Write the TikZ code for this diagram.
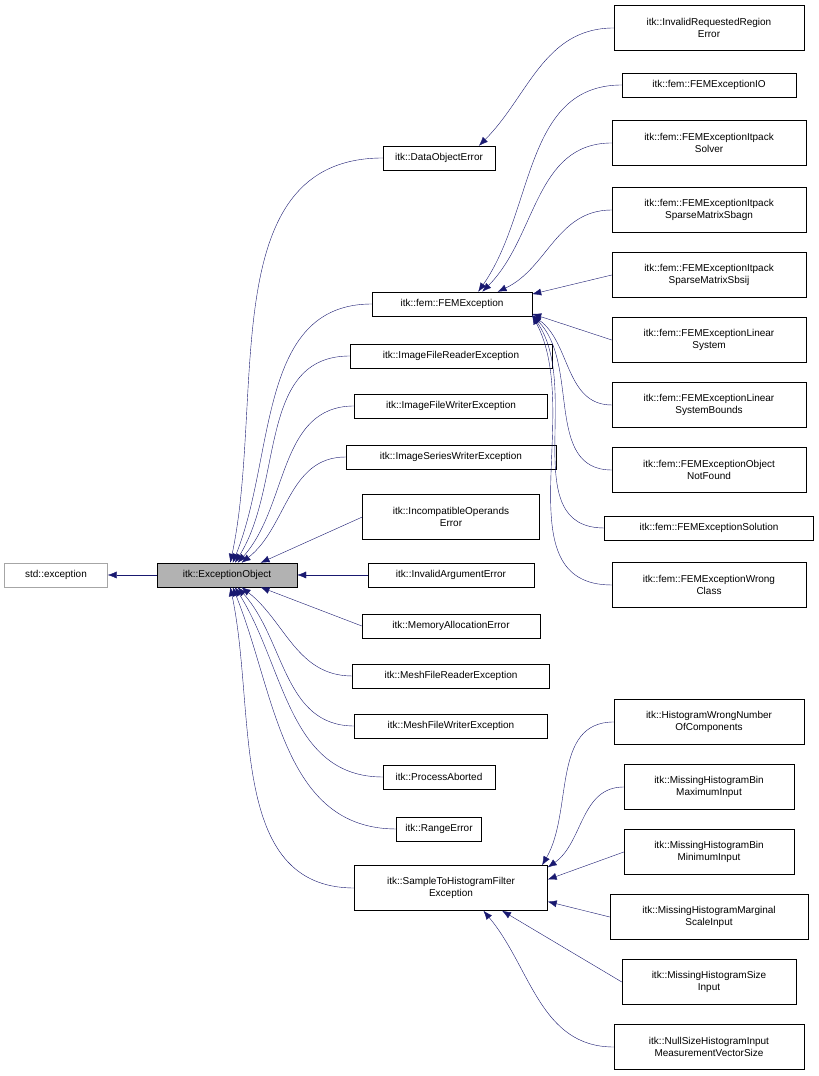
\documentclass[tikz,border=0pt]{standalone}
\usepackage{fontspec}
\setmainfont{Liberation Sans}
\usetikzlibrary{arrows.meta}
\definecolor{edgeblue}{HTML}{191970}
\tikzset{
  cls/.style={draw=black,fill=white,align=center,inner sep=2pt,
    minimum height=24pt,minimum width=#1,font=\fontsize{10}{11.5}\selectfont},
  cls2/.style={cls=#1,minimum height=45pt},
  inh/.style={edgeblue,-{Latex[length=9pt,width=7pt]}}
}
\begin{document}
\begin{tikzpicture}[x=1pt,y=1pt]
  \useasboundingbox (0,0) rectangle (819,1076);
  %% root
  \node[cls=103,draw=gray!70] (stdexc) at (56,501) {std::exception};
  \node[cls=140,fill=gray!60] (eo) at (227,501) {itk::ExceptionObject};

  %% middle column
  \node[cls=112] (doe) at (439,918) {itk::DataObjectError};
  \node[cls=160] (fem) at (452,772) {itk::fem::FEMException};
  \node[cls=202] (ifr) at (451,720) {itk::ImageFileReaderException};
  \node[cls=193] (ifw) at (451,670) {itk::ImageFileWriterException};
  \node[cls=210] (isw) at (451,619) {itk::ImageSeriesWriterException};
  \node[cls2=177] (inc) at (451,559) {itk::IncompatibleOperands\\Error};
  \node[cls=166] (iae) at (451,501) {itk::InvalidArgumentError};
  \node[cls=178] (mae) at (451,450) {itk::MemoryAllocationError};
  \node[cls=197] (mfr) at (451,400) {itk::MeshFileReaderException};
  \node[cls=193] (mfw) at (451,350) {itk::MeshFileWriterException};
  \node[cls=112] (pa) at (439,299) {itk::ProcessAborted};
  \node[cls=85] (re) at (439,247) {itk::RangeError};
  \node[cls2=193] (sth) at (451,188) {itk::SampleToHistogramFilter\\Exception};

  %% right column
  \node[cls2=190] (irr) at (709,1048) {itk::InvalidRequestedRegion\\Error};
  \node[cls=174] (io) at (709,991) {itk::fem::FEMExceptionIO};
  \node[cls2=194] (sol) at (709,933) {itk::fem::FEMExceptionItpack\\Solver};
  \node[cls2=194] (sbagn) at (709,866) {itk::fem::FEMExceptionItpack\\SparseMatrixSbagn};
  \node[cls2=194] (sbsij) at (709,801) {itk::fem::FEMExceptionItpack\\SparseMatrixSbsij};
  \node[cls2=194] (lin) at (709,736) {itk::fem::FEMExceptionLinear\\System};
  \node[cls2=194] (linb) at (709,671) {itk::fem::FEMExceptionLinear\\SystemBounds};
  \node[cls2=194] (onf) at (709,606) {itk::fem::FEMExceptionObject\\NotFound};
  \node[cls=209] (solu) at (709,548) {itk::fem::FEMExceptionSolution};
  \node[cls2=194] (wc) at (709,491) {itk::fem::FEMExceptionWrong\\Class};
  \node[cls2=190] (hwn) at (709,354) {itk::HistogramWrongNumber\\OfComponents};
  \node[cls2=170] (max) at (709,289) {itk::MissingHistogramBin\\MaximumInput};
  \node[cls2=170] (min) at (709,224) {itk::MissingHistogramBin\\MinimumInput};
  \node[cls2=198] (msi) at (709,159) {itk::MissingHistogramMarginal\\ScaleInput};
  \node[cls2=174] (size) at (709,94) {itk::MissingHistogramSize\\Input};
  \node[cls2=190] (null) at (709,29) {itk::NullSizeHistogramInput\\MeasurementVectorSize};

  %% inheritance
  \draw[inh] (eo) -- (stdexc);
  \draw[inh] (doe.west) to[out=180,in=78] (eo.75);
  \draw[inh] (fem.west) to[out=180,in=68] (eo.65);
  \draw[inh] (ifr.west) to[out=180,in=58] (eo.57);
  \draw[inh] (ifw.west) to[out=180,in=48] (eo.49);
  \draw[inh] (isw.west) to[out=180,in=38] (eo.40);
  \draw[inh] (inc.west) -- (eo.20);
  \draw[inh] (iae.west) -- (eo.east);
  \draw[inh] (mae.west) -- (eo.-20);
  \draw[inh] (mfr.west) to[out=180,in=-38] (eo.-40);
  \draw[inh] (mfw.west) to[out=180,in=-48] (eo.-49);
  \draw[inh] (pa.west) to[out=180,in=-58] (eo.-57);
  \draw[inh] (re.west) to[out=180,in=-68] (eo.-65);
  \draw[inh] (sth.west) to[out=180,in=-78] (eo.-75);

  \draw[inh] (irr.west) to[out=180,in=45] (doe.17);
  \draw[inh] (io.west) to[out=180,in=55] (fem.25);
  \draw[inh] (sol.west) to[out=180,in=45] (fem.22);
  \draw[inh] (sbagn.west) to[out=180,in=25] (fem.15);
  \draw[inh] (sbsij.west) -- (fem.7);
  \draw[inh] (lin.west) -- (fem.-7);
  \draw[inh] (linb.west) to[out=180,in=-35] (fem.-8.5);
  \draw[inh] (onf.west) to[out=180,in=-45] (fem.-8.5);
  \draw[inh] (solu.west) to[out=180,in=-55] (fem.-8.5);
  \draw[inh] (wc.west) to[out=180,in=-62] (fem.-8.5);

  \draw[inh] (hwn.west) to[out=180,in=60] (sth.14);
  \draw[inh] (max.west) to[out=180,in=35] (sth.12);
  \draw[inh] (min.west) -- (sth.5);
  \draw[inh] (msi.west) -- (sth.-8);
  \draw[inh] (size.west) -- (sth.-24);
  \draw[inh] (null.west) to[out=180,in=-50] (sth.-35);
\end{tikzpicture}
\end{document}
